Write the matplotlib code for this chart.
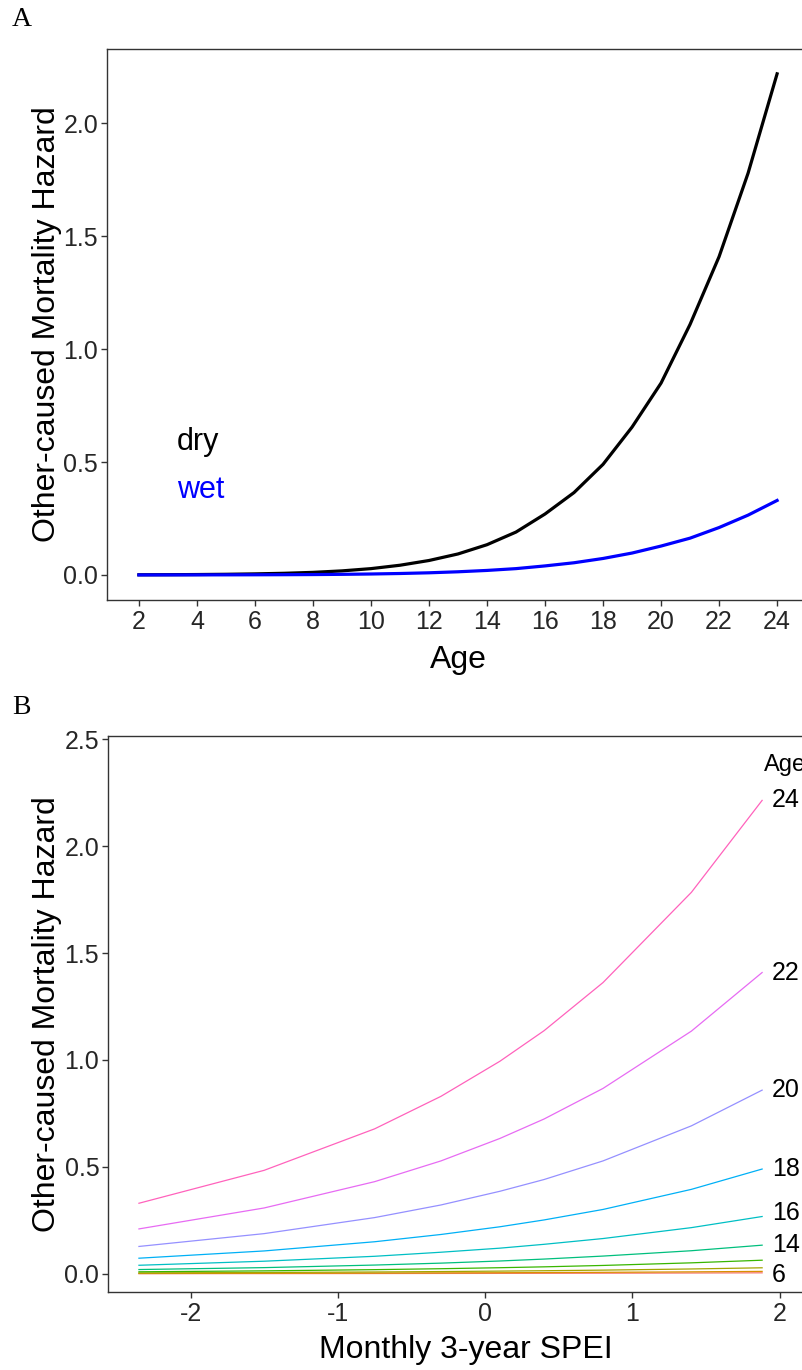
import matplotlib
matplotlib.use('Agg')
import matplotlib.pyplot as plt

plt.rcParams['font.family'] = ['Liberation Sans', 'DejaVu Sans']
plt.rcParams['axes.unicode_minus'] = False

# Panel A: hazard by age for dry / wet conditions
ages = list(range(2, 25))
dry = [0.0007, 0.0011, 0.0018, 0.0029, 0.0047, 0.0073, 0.0114, 0.018, 0.028, 0.043, 0.064,
       0.093, 0.134, 0.19, 0.27, 0.365, 0.49, 0.655, 0.85, 1.11, 1.41, 1.78, 2.22]
wet = [0.0001, 0.0002, 0.0003, 0.00045, 0.0007, 0.0011, 0.0017, 0.0027, 0.0042, 0.0064, 0.0095,
       0.014, 0.020, 0.028, 0.040, 0.054, 0.073, 0.097, 0.128, 0.163, 0.21, 0.265, 0.33]

# Panel B: hazard vs SPEI for each age
spei = [-2.35, -1.5, -0.75, -0.3, 0.1, 0.4, 0.8, 1.4, 1.88]
age6 = [0.0007, 0.0010, 0.0014, 0.0018, 0.0021, 0.0024, 0.0029, 0.0038, 0.0047]
age8 = [0.0017, 0.0025, 0.0035, 0.0043, 0.0051, 0.0059, 0.0070, 0.0092, 0.0114]
age10 = [0.0042, 0.0062, 0.0086, 0.0106, 0.0127, 0.0145, 0.0173, 0.0227, 0.0282]
age12 = [0.0095, 0.0139, 0.0195, 0.0239, 0.0286, 0.0327, 0.0392, 0.0514, 0.0637]
age14 = [0.020, 0.029, 0.041, 0.050, 0.060, 0.069, 0.083, 0.108, 0.134]
age16 = [0.040, 0.059, 0.082, 0.101, 0.120, 0.138, 0.165, 0.216, 0.268]
age18 = [0.073, 0.107, 0.150, 0.184, 0.220, 0.252, 0.301, 0.395, 0.490]
age20 = [0.128, 0.188, 0.263, 0.322, 0.386, 0.441, 0.528, 0.692, 0.859]
age22 = [0.21, 0.308, 0.431, 0.528, 0.633, 0.724, 0.867, 1.135, 1.409]
age24 = [0.33, 0.484, 0.678, 0.830, 0.994, 1.137, 1.362, 1.784, 2.214]

age_levels = [6, 8, 10, 12, 14, 16, 18, 20, 22, 24]
age_series = [age6, age8, age10, age12, age14, age16, age18, age20, age22, age24]
age_colors = ["#F8766D", "#D89000", "#A3A500", "#39B600", "#00BF7D",
              "#00BFC4", "#00B0F6", "#9590FF", "#E76BF3", "#FF62BC"]
labelled_ages = [24, 22, 20, 18, 16, 14, 6]
label_nudge = {16: 0.017, 6: -0.012}

tick_color = '#333333'
text_color = '#262626'


def style_axes(ax):
    for side in ['top', 'bottom', 'left', 'right']:
        ax.spines[side].set_color(tick_color)
        ax.spines[side].set_linewidth(1.0)
    ax.tick_params(direction='out', length=4.3, width=1.0, color=tick_color,
                   labelsize=18, labelcolor=text_color)
    ax.tick_params(axis='x', pad=3)
    ax.tick_params(axis='y', pad=2)


fig = plt.figure(figsize=(8.03, 13.70), dpi=100)

# ---- Panel A ----
axA = fig.add_axes([107 / 803, 1 - 600 / 1370, 702 / 803, 551 / 1370])
axA.plot(ages, dry, color='black', linewidth=2.3)
axA.plot(ages, wet, color='#0000FF', linewidth=2.3)
axA.set_xlim(0.9, 25.1)
axA.set_ylim(-0.111, 2.33)
axA.set_xticks(range(2, 25, 2))
axA.set_yticks([0, 0.5, 1.0, 1.5, 2.0])
axA.set_yticklabels(['0.0', '0.5', '1.0', '1.5', '2.0'])
axA.text(3.3, 0.59, 'dry', color='black', fontsize=22, ha='left', va='center')
axA.text(3.3, 0.375, 'wet', color='#0000FF', fontsize=22, ha='left', va='center')
axA.set_xlabel('Age', fontsize=23, va='center')
axA.xaxis.set_label_coords(0.5, -0.109)
axA.set_ylabel('Other-caused Mortality Hazard', fontsize=23, va='center')
axA.yaxis.set_label_coords(-0.085, 0.5)
style_axes(axA)

# ---- Panel B ----
axB = fig.add_axes([108 / 803, 1 - 1292 / 1370, 716 / 803, 556 / 1370])
for age, vals, col in zip(age_levels, age_series, age_colors):
    axB.plot(spei, vals, color=col, linewidth=0.9)
    if age in labelled_ages:
        axB.text(spei[-1] + 0.065, vals[-1] + label_nudge.get(age, 0.0), str(age),
                 fontsize=18, color='black', ha='left', va='center')
axB.text(1.89, 2.38, 'Age', fontsize=17, color='black', ha='left', va='center')
axB.set_xlim(-2.56, 2.30)
axB.set_ylim(-0.085, 2.515)
axB.set_xticks([-2, -1, 0, 1, 2])
axB.set_xticklabels(['-2', '-1', '0', '1', '2'])
axB.set_yticks([0, 0.5, 1.0, 1.5, 2.0, 2.5])
axB.set_yticklabels(['0.0', '0.5', '1.0', '1.5', '2.0', '2.5'])
axB.set_xlabel('Monthly 3-year SPEI', fontsize=23, va='center')
axB.xaxis.set_label_coords(0.5, -0.104)
axB.set_ylabel('Other-caused Mortality Hazard', fontsize=23, va='center')
axB.yaxis.set_label_coords(-0.085, 0.5)
style_axes(axB)

fig.text(12 / 803, 1 - 20 / 1370, 'A', family='Liberation Serif', fontsize=20, va='center')
fig.text(12 / 803, 1 - 707 / 1370, 'B', family='Liberation Serif', fontsize=20, va='center')

fig.savefig('out.png', dpi=100)
